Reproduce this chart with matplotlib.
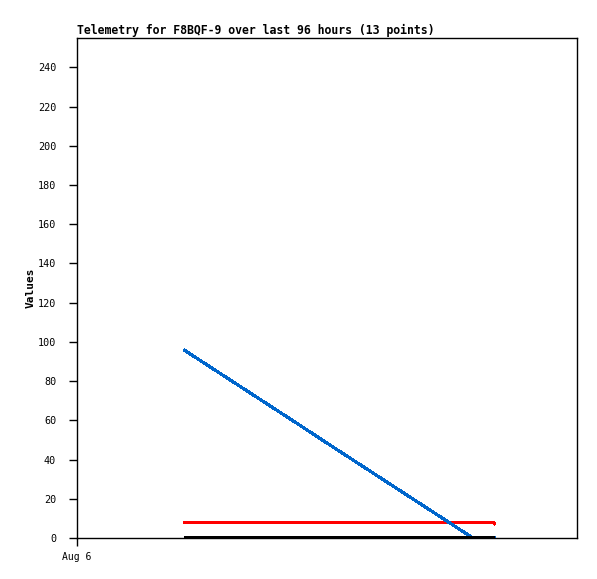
import matplotlib
matplotlib.use("Agg")
import matplotlib.pyplot as plt

# hours since Aug 6 00:00 (window of 96 hours)
hours = [20.5, 26.0, 31.5, 37.0, 42.5, 48.0, 53.5, 59.0, 64.5, 70.0, 76.0, 79.9, 80.3]
blue_vals = [96, 86.5, 77, 67.5, 58, 48.4, 38.9, 29.4, 19.9, 10.4, 0, 0, 0]
red_vals = [8.0, 8.0, 8.0, 8.0, 8.0, 8.0, 8.0, 8.0, 8.0, 8.0, 8.0, 8.0, 7.0]
black_vals = [0, 0, 0, 0, 0, 0, 0, 0, 0, 0, 0, 0, 0]
x_ticks = [0]
x_tick_labels = ["Aug 6"]
y_ticks = [0, 20, 40, 60, 80, 100, 120, 140, 160, 180, 200, 220, 240]
title = "Telemetry for F8BQF-9 over last 96 hours (13 points)"

mono = "DejaVu Sans Mono"
fig = plt.figure(figsize=(5.97, 5.79), dpi=100)
ax = fig.add_axes([77/597, 1-538/579, 500/597, 500/579])

ax.plot(hours, red_vals, color="#ff0000", lw=1.6, solid_capstyle="butt", antialiased=False)
ax.plot(hours, blue_vals, color="#0066cc", lw=1.5, solid_capstyle="butt", antialiased=False)
ax.plot(hours, black_vals, color="#000000", lw=1.6, solid_capstyle="butt", antialiased=False)

ax.set_xlim(0, 96)
ax.set_ylim(0, 255)
ax.set_xticks(x_ticks)
ax.set_xticklabels(x_tick_labels, fontfamily=mono, fontsize=7)
ax.set_yticks(y_ticks)
ax.set_yticklabels([str(v) for v in y_ticks], fontfamily=mono, fontsize=7.3)
ax.tick_params(direction="out", length=6, width=1, pad=9)
ax.tick_params(axis="x", pad=4)
for s in ax.spines.values():
    s.set_linewidth(1)
ax.set_ylabel("Values", fontfamily=mono, fontsize=8, fontweight="bold")
ax.yaxis.set_label_coords((36 - 77) / 500, 0.5)
ax.set_title(title, loc="left", fontfamily=mono, fontsize=8.3, fontweight="bold", pad=3)

fig.savefig("out.png", dpi=100)
